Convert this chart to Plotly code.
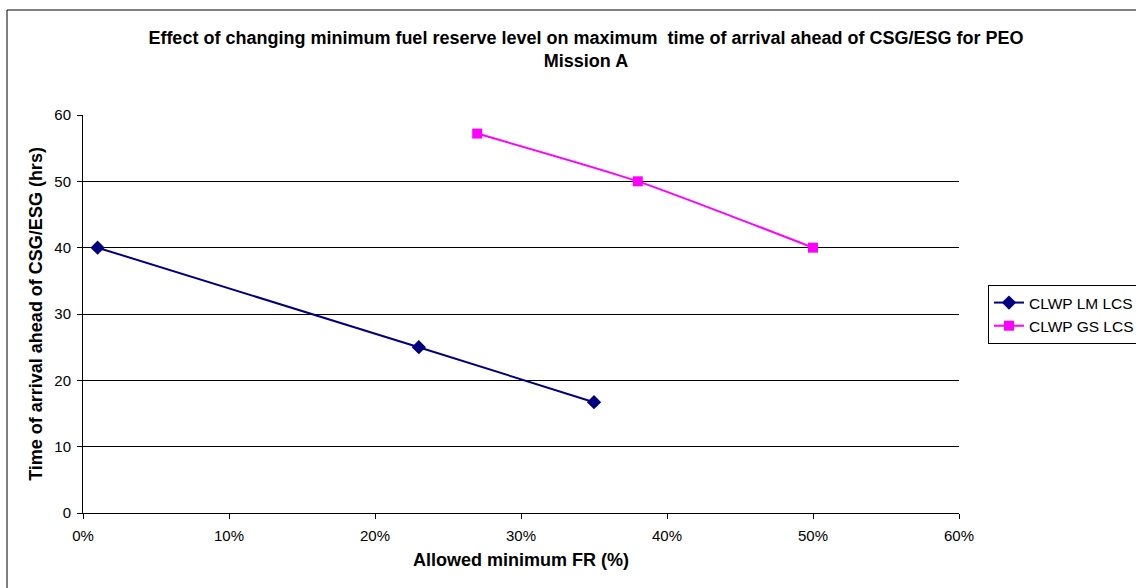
import plotly.graph_objects as go

# Data
lm_x = [0.01, 0.23, 0.35]
lm_y = [40, 25, 16.7]
gs_x = [0.27, 0.38, 0.50]
gs_y = [57.2, 50, 40]
series_names = ["CLWP LM LCS", "CLWP GS LCS"]
title_text = ("Effect of changing minimum fuel reserve level on maximum  time of arrival ahead of CSG/ESG for PEO"
              "<br>Mission A")
x_title = "Allowed minimum FR (%)"
y_title = "Time of arrival ahead of CSG/ESG (hrs)"

W, H = 1136, 588
L, R, T, B = 83, 177, 115, 75
pw, ph = W - L - R, H - T - B

def px_x(p):
    return (p - L) / pw

def px_y(p):
    return (H - B - p) / ph

FONT = "Liberation Sans, Arial, sans-serif"

fig = go.Figure()
fig.add_trace(go.Scatter(
    x=lm_x, y=lm_y, name=series_names[0], mode="lines+markers",
    line=dict(color="#000080", width=2, shape="spline", smoothing=0.6),
    marker=dict(symbol="diamond", size=11, color="#000080"),
))
fig.add_trace(go.Scatter(
    x=gs_x, y=gs_y, name=series_names[1], mode="lines+markers",
    line=dict(color="#FF00FF", width=2, shape="spline", smoothing=0.6),
    marker=dict(symbol="square", size=10, color="#FF00FF"),
))

fig.update_layout(
    width=W, height=H, autosize=False,
    margin=dict(l=L, r=R, t=T, b=B, pad=0, autoexpand=False),
    paper_bgcolor="white", plot_bgcolor="white",
    font=dict(family=FONT, size=15, color="black"),
    title=dict(text=title_text, x=586 / W, xanchor="center", xref="container",
               y=1 - 44 / H, yanchor="top", yref="container",
               font=dict(family=FONT, size=18, color="black", weight="bold")),
    showlegend=True,
    legend=dict(x=988 / W, xanchor="left", y=1 - 285 / H, yanchor="top",
                xref="container", yref="container",
                bordercolor="black", borderwidth=1, bgcolor="white",
                font=dict(family=FONT, size=15.5, color="black"),
                tracegroupgap=0, itemwidth=30),
    shapes=[dict(type="rect", xref="paper", yref="paper",
                 x0=px_x(7), x1=1.4, y0=px_y(620), y1=px_y(10),
                 line=dict(color="black", width=1), layer="below")],
)

fig.update_xaxes(
    range=[0, 0.6], dtick=0.1, tick0=0, tickformat=".0%",
    showline=True, linecolor="black", linewidth=1,
    ticks="outside", ticklen=5, tickcolor="black", ticklabelstandoff=4,
    showgrid=False, zeroline=False, automargin=False,
    title=dict(text=x_title, standoff=10,
               font=dict(family=FONT, size=18, color="black", weight="bold")),
    tickfont=dict(family=FONT, size=15),
)
fig.update_yaxes(
    range=[0, 60], dtick=10, tick0=0,
    showline=True, linecolor="black", linewidth=1,
    ticks="outside", ticklen=5, tickcolor="black", ticklabelstandoff=3,
    showgrid=True, gridcolor="black", gridwidth=1, zeroline=False, automargin=False,
    title=dict(text=y_title, standoff=7,
               font=dict(family=FONT, size=18, color="black", weight="bold")),
    tickfont=dict(family=FONT, size=15),
)

fig.write_html("out.html", config={"displayModeBar": False},
               post_script="document.body.style.margin='0';document.body.style.overflow='hidden';")
